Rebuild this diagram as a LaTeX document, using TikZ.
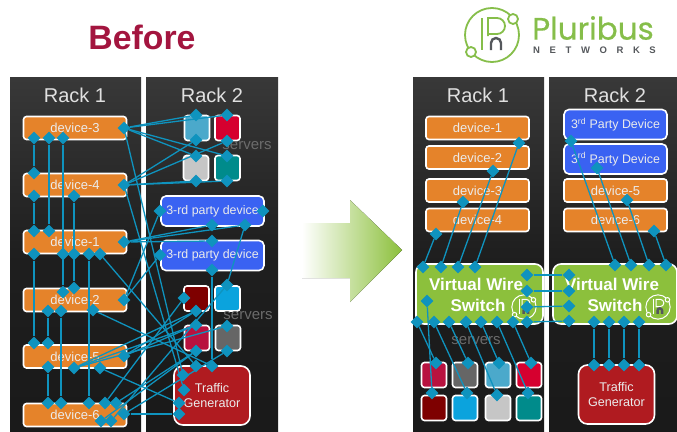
\documentclass[tikz,border=0pt]{standalone}
\usepackage{xcolor}
\usepackage{fontspec}
\setmainfont{Liberation Sans}
\newfontfamily\logofont[FakeBold=0.5]{Poppins}
\usetikzlibrary{shapes.geometric}
\definecolor{wireblue}{HTML}{0F93BE}
\definecolor{devorange}{HTML}{E5832A}
\definecolor{thirdblue}{HTML}{3A62F2}
\definecolor{tgred}{HTML}{B01B20}
\definecolor{vwgreen}{HTML}{8CC03C}
\definecolor{logogreen}{HTML}{86BE4A}
\definecolor{logogrey}{HTML}{55585C}
\definecolor{srvcrimson}{HTML}{B8123F}
\definecolor{srvgrey}{HTML}{666666}
\definecolor{srvsky}{HTML}{4BA9CB}
\definecolor{srvred}{HTML}{D6002F}
\definecolor{srvdark}{HTML}{7E0000}
\definecolor{srvcyan}{HTML}{0BA3DD}
\definecolor{srvlight}{HTML}{C6C6C6}
\definecolor{srvteal}{HTML}{008B8B}
\definecolor{titlered}{HTML}{A3153F}
\begin{document}
\begin{tikzpicture}[x=1pt,y=-1pt]
        \tikzset{rack/.style={minimum width=132pt,minimum height=354pt,inner sep=0pt,top color=black!78,bottom color=black!90,middle color=black!88},
            racktitle/.style={text=white!88!black,font=\fontsize{20}{22}\selectfont},
            device/.style={draw=white,line width=1.6pt,fill=devorange,rounded corners=3pt,minimum width=103pt,minimum height=23pt,inner sep=0pt,text=white!92!black,font=\fontsize{13}{15}\selectfont},
            third/.style={device,fill=thirdblue,rounded corners=5pt,minimum height=30pt,font=\fontsize{12.4}{14}\selectfont},
            server/.style={draw=white,line width=1.6pt,rounded corners=3pt,minimum size=25pt,inner sep=0pt},
            traffic/.style={draw=white,line width=1.6pt,fill=tgred,rounded corners=9pt,minimum width=76pt,minimum height=59pt,inner sep=0pt,align=center,text=white!92!black,font=\fontsize{12.6}{15.5}\selectfont},
            vwswitch/.style={draw=white,line width=1.6pt,fill=vwgreen,rounded corners=8pt,minimum height=60pt,inner sep=0pt},
            vwtext/.style={text=white,font=\bfseries\fontsize{17}{19}\selectfont},
            srvlabel/.style={text=black!58,font=\fontsize{15}{17}\selectfont},
            port/.style={diamond,fill=wireblue,inner sep=0pt,minimum size=13pt},
            wire/.style={draw=wireblue,line width=1.3pt},
            pnline/.style={line width=1.8pt},
            pnmark/.pic={
                \draw[pnline,draw=pncolor] (0,0) circle (27);
                \draw[pnline,draw=pncolor,fill=pnfill] (21,-16) circle (5) (-21,17) circle (5);
                \draw[pnline,draw=pncolor] (-10,-17) -- (-10,15);
                \draw[pnline,draw=pncolor] (-4,1) -- (-4,-17) -- (5,-17) arc (-90:90:8) -- (-4,-1);
                \draw[pnline,draw=logogrey,line width=2.4pt] (-1,15) -- (-1,8) arc (180:360:5) -- (9,15);
            }}

        \useasboundingbox (0,0) rectangle (677,431);

        % racks
        \foreach \n/\x/\w/\t/\tx in {rackA/75.5/131/Rack 1/75,rackB/212/132/Rack 2/212,rackC/478.5/131/Rack 1/478,rackD/613/128/Rack 2/615}{
            \node[rack,minimum width=\w pt] (\n) at (\x,254) {};
            \node[racktitle] (\n title) at (\tx,95) {\t};
        }

        \node[font=\bfseries\fontsize{33.8}{36}\selectfont,text=titlered] (before) at (142,37) {Before};

        % logo
        \colorlet{pncolor}{logogreen}\colorlet{pnfill}{white}
        \pic at (492,35) {pnmark};
        \node[anchor=west,inner sep=0pt,text=logogreen,font=\logofont\fontsize{31}{33}\selectfont] (pluribus) at (532,28) {Pluribus};
        \node[anchor=west,inner sep=0pt,text=logogrey,font=\bfseries\fontsize{9.5}{11}\selectfont] (networks) at (533,50) {N\hspace{9.6pt}E\hspace{9.6pt}T\hspace{9.6pt}W\hspace{9.6pt}O\hspace{9.6pt}R\hspace{9.6pt}K\hspace{9.6pt}S};

        % arrow
        \fill[left color=white,right color=vwgreen] (302,223) -- (350,223) -- (350,200) -- (402,250) -- (350,302) -- (350,278) -- (302,278) -- cycle;

        % before: devices
        \foreach \n/\y/\t in {bthree/128/device-3,bfour/185/device-4,bone/242/device-1,btwo/300/device-2,bfive/356.5/device-5,bsix/415/device-6}
            \node[device] (\n) at (75,\y) {\t};
        \node[third] (bthA) at (212.5,211) {3-rd party device};
        \node[third] (bthB) at (212.5,255.5) {3-rd party device};
        \foreach \n/\x/\y/\c in {bsky/197/128/srvsky,bred/227.5/128/srvred,blight/196/168/srvlight,bteal/227.5/168/srvteal,bdark/196.5/298.5/srvdark,bcyan/227.5/298.5/srvcyan,bcrim/197/338/srvcrimson,bgrey/228/338/srvgrey}
            \node[server,fill=\c] (\n) at (\x,\y) {};
        \node[traffic] (btg) at (212,395.5) {Traffic\\Generator};
        \node[srvlabel] (bsrvA) at (247,146) {servers};
        \node[srvlabel] (bsrvB) at (248,316) {servers};

        % after: devices
        \foreach \n/\y/\t in {aone/128/device-1,atwo/157.5/device-2,athree/190.5/device-3,afour/220/device-4}
            \node[device] (\n) at (477.5,\y) {\t};
        \node[third] (athA) at (615.5,124.5) {3\textsuperscript{rd} Party Device};
        \node[third] (athB) at (615.5,159) {3\textsuperscript{rd} Party Device};
        \node[device] (afive) at (615.5,190.5) {device-5};
        \node[device] (asix) at (615.5,220) {device-6};
        \node[vwswitch,minimum width=127pt] (swA) at (479.5,294) {};
        \node[vwswitch,minimum width=124pt] (swB) at (615,294) {};
        \node[vwtext] (swAa) at (476,284) {Virtual Wire};
        \node[vwtext] (swAb) at (478,305) {Switch};
        \node[vwtext] (swBa) at (612,284) {Virtual Wire};
        \node[vwtext] (swBb) at (615,305) {Switch};
        \foreach \n/\x/\y/\c in {acrim/434/375/srvcrimson,agrey/465/375/srvgrey,asky/498/375/srvsky,ared/529/375/srvred,adark/434/408/srvdark,acyan/465/408/srvcyan,alight/498/408/srvlight,ateal/529/408/srvteal}
            \node[server,fill=\c] (\n) at (\x,\y) {};
        \node[traffic] (atg) at (616.5,394.5) {Traffic\\Generator};
        \node[srvlabel] (asrv) at (476,341) {servers};

        \colorlet{pncolor}{white}\colorlet{pnfill}{vwgreen}
        \foreach \x in {524,658}
            \pic[scale=.45,pnline/.style={line width=1pt}] at (\x,307) {pnmark};

        % before: ports
        \foreach \n/\x/\y in {bthreeR/124/128,bthreeA/34/138,bthreeB/49/138,bthreeC/63/138,
            bfourT/34/173,bfourA/34/196,bfourB/74/196,bfourR/124/185,
            boneS/34/231,boneT/49/231,boneR/124/242,boneA/34/254,boneB/63/254,boneC/74/254,boneD/89/254,boneE/100/254,
            btwoS/63/292,btwoT/74/288,btwoR/124/300,btwoA/48/311,btwoB/61/311,btwoC/93/310,
            bfiveS/34/343,bfiveT/48/343,bfiveR/124/356,bfiveA/48/367,bfiveB/74/368,bfiveC/100/368,
            bsixS/48/403,bsixT/61/403,bsixU/89/403,bsixV/105/403,bsixW/116/403,bsixR/124/414,bsixA/101/421,bsixB/111/421,
            bskyT/196/115,bskyB/196/140,bredT/227/115,bredB/227/141,blightT/196/156,blightB/196/181,btealT/227/156,btealB/227/181,
            bthAL/160/211,bthAR/263/211,bthAS/212/225,bthAT/245/225,bthBT/212/241,bthBL/160/255,bthBB/212/270,
            bdarkL/184/298,bdarkB/196/311,bcyanT/227/285,bcrimT/196/325,bcrimB/196/351,bgreyT/227/326,bgreyB/227/351,
            btgS/196/366,btgT/212/366,btgA/183/375,btgB/184/390,btgC/179/403,btgD/179/414}
            \node[port] (\n) at (\x,\y) {};

        % before: wires
        \foreach \a/\b in {bthreeA/bfourT,bthreeB/boneT,bthreeC/btwoS,bfourA/boneS,bfourB/btwoT,boneA/bfiveS,boneB/btwoS,boneC/btwoT,btwoA/bfiveT,btwoB/bsixT,boneD/bsixU,bfiveA/bsixS,
            bthreeR/bskyT,bthreeR/bredT,bthreeR/blightT,bthreeR/btealT,bthreeR/btgA,
            bfourR/bskyB,bfourR/bredB,bfourR/blightB,bfourR/btealB,bfourR/btgB,
            boneR/bthAS,boneR/bthAT,boneR/bthBT,btwoR/bthAL,btwoR/bthBL,
            bthAT/bcyanT,bthBB/btgT,boneE/btgS,btwoC/btgT,bfiveC/btgC,bsixR/btgD,
            bfiveB/bdarkB,bfiveB/bcrimT,bfiveB/bgreyT,bfiveR/bcrimT,bfiveR/bdarkB,
            bsixV/bdarkL,bsixW/bcrimB,bsixA/bcrimB,bsixB/bcyanT,bsixR/bgreyB}
            \draw[wire] (\a) -- (\b);

        % after: ports
        \foreach \n/\x/\y in {aoneP/519/143,atwoP/493/171,athreeP/463/202,afourP/436/234,
            athAP/571/141,athBP/597/168,afiveP/627/200,asixP/654/231,
            swAa/423/267,swAb/441/267,swAc/458/267,swAd/475/267,
            swBa/615/265,swBb/631/265,swBc/649/265,swBd/666/265,
            swAe/527/275,swAf/527/291,swAg/527/307,swAh/527/322,
            swBe/569/275,swBf/569/291,swBg/569/306,swBh/569/321,
            swAi/427/301,swAj/417/322,swAk/434/322,swAl/449/322,swAm/466/322,swAn/481/322,swAo/497/322,swAp/513/322,
            acrimP/436/363,agreyP/468/363,askyP/499/363,aredP/531/363,adarkP/432/393,acyanP/467/393,alightP/497/395,atealP/528/393,
            swBi/594/322,swBj/609/322,swBk/624/322,swBl/639/322,atgA/594/365,atgB/609/365,atgC/624/365,atgD/639/365}
            \node[port] (p\n) at (\x,\y) {};

        % after: wires
        \foreach \a/\b in {afourP/swAa,athreeP/swAb,atwoP/swAc,aoneP/swAd,
            athAP/swBa,athBP/swBb,afiveP/swBc,asixP/swBd,
            swAe/swBe,swAf/swBf,swAg/swBg,swAh/swBh,
            swAi/adarkP,swAj/acrimP,swAk/acyanP,swAl/agreyP,swAm/alightP,swAn/askyP,swAo/atealP,swAp/aredP,
            swBi/atgA,swBj/atgB,swBk/atgC,swBl/atgD}
            \draw[wire] (p\a) -- (p\b);
    \end{tikzpicture}
\end{document}
